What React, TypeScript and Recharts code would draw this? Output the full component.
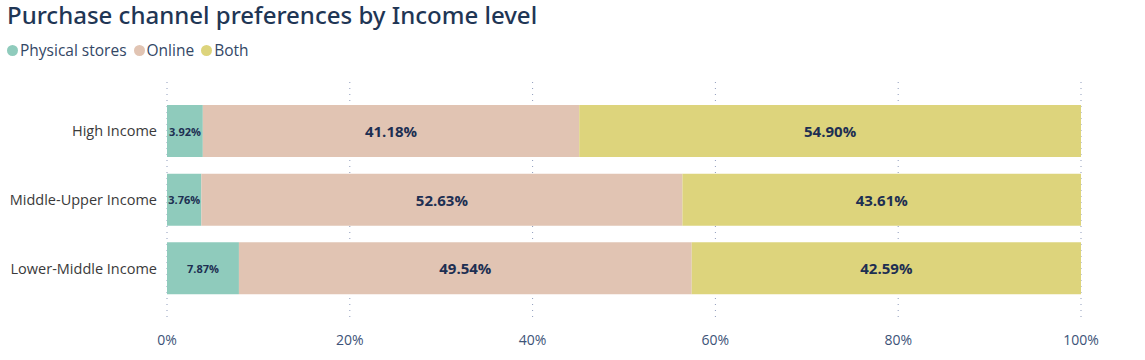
import { BarChart, Bar, XAxis, YAxis, CartesianGrid, LabelList } from 'recharts'

const categories = ['High Income', 'Middle-Upper Income', 'Lower-Middle Income']
const physical = [3.92, 3.76, 7.87]
const online = [41.18, 52.63, 49.54]
const both = [54.9, 43.61, 42.59]
const xTicks = [0, 20, 40, 60, 80, 100]

const SERIES = [
  { key: 'physical', name: 'Physical stores', color: '#8fcbbc', labelSize: 11 },
  { key: 'online', name: 'Online', color: '#e1c4b3', labelSize: 15 },
  { key: 'both', name: 'Both', color: '#ddd47c', labelSize: 15 },
]

const data = categories.map((c, i) => ({
  name: c,
  physical: physical[i],
  online: online[i],
  both: both[i],
}))

const FONT = '"Open Sans", "Noto Sans", sans-serif'

function makeLabel(fontSize: number) {
  // eslint-disable-next-line @typescript-eslint/no-explicit-any
  return function renderLabel(props: any) {
    const x = Number(props.x ?? 0)
    const y = Number(props.y ?? 0)
    const width = Number(props.width ?? 0)
    const height = Number(props.height ?? 0)
    const value = Number(props.value ?? 0)
    return (
      <text
        x={x + width / 2}
        y={y + height / 2}
        textAnchor="middle"
        dominantBaseline="central"
        fill="#1d2f52"
        fontWeight={700}
        fontSize={fontSize}
        fontFamily={FONT}
      >
        {`${value.toFixed(2)}%`}
      </text>
    )
  }
}

function LegendContent() {
  return (
    <div style={{ display: 'flex', alignItems: 'center', fontFamily: FONT, fontSize: 15.5, color: '#334766' }}>
      {SERIES.map((s) => (
        <span key={s.key} style={{ display: 'flex', alignItems: 'center', marginRight: 7 }}>
          <span
            style={{
              width: 11,
              height: 11,
              borderRadius: '50%',
              background: s.color,
              display: 'inline-block',
              marginRight: 2,
            }}
          />
          {s.name}
        </span>
      ))}
    </div>
  )
}

export default function App() {
  return (
    <div style={{ position: 'absolute', left: 0, top: 0, width: 1145, height: 360, background: '#fff' }}>
      <div
        style={{
          position: 'absolute',
          left: 7,
          top: -2,
          fontFamily: '"Noto Sans", sans-serif',
          fontSize: 24,
          fontWeight: 500,
          color: '#1f3655',
          whiteSpace: 'nowrap',
        }}
      >
        Purchase channel preferences by Income level
      </div>
      <div style={{ position: 'absolute', left: 7, top: 39 }}>
        <LegendContent />
      </div>
      <BarChart
        width={1145}
        height={360}
        data={data}
        layout="vertical"
        margin={{ top: 82, right: 64, bottom: 8, left: 7 }}
        barCategoryGap={0}
      >
        <CartesianGrid horizontal={false} stroke="#8e9bbb" strokeDasharray="1 5" />
        <XAxis
          type="number"
          domain={[0, 100]}
          ticks={xTicks}
          tickFormatter={(v) => `${v}%`}
          axisLine={false}
          tickLine={false}
          tickSize={0}
          tickMargin={13}
          height={30}
          tick={{ fill: '#3d5378', fontSize: 14, fontFamily: FONT }}
        />
        <YAxis
          type="category"
          dataKey="name"
          width={160}
          axisLine={false}
          tickLine={false}
          tickSize={0}
          tickMargin={10}
          padding={{ top: 15, bottom: 19 }}
          tick={{ fill: '#3a3a3a', fontSize: 14.5, fontFamily: FONT }}
        />
        {SERIES.map((s) => (
          <Bar
            key={s.key}
            dataKey={s.key}
            name={s.name}
            stackId="a"
            fill={s.color}
            barSize={52}
            isAnimationActive={false}
          >
            <LabelList dataKey={s.key} content={makeLabel(s.labelSize)} />
          </Bar>
        ))}
      </BarChart>
    </div>
  )
}
